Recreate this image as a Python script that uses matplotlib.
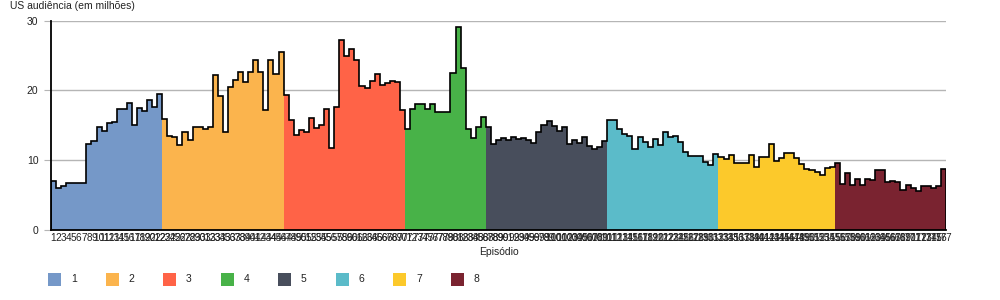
import numpy as np
import matplotlib
matplotlib.use("Agg")
import matplotlib.pyplot as plt
from matplotlib.patches import Rectangle

plt.rcParams["font.family"] = ["Liberation Sans", "DejaVu Sans"]

# US viewers (millions) per episode, grouped by season
season_1 = [7.0, 6.0, 6.3, 6.7, 6.8, 6.7, 6.8, 12.3, 12.7, 14.8, 14.2, 15.4, 15.5,
            17.3, 17.3, 18.2, 15.1, 17.5, 17.1, 18.7, 17.6, 19.5]
season_2 = [15.9, 13.5, 13.3, 12.2, 14.1, 12.9, 14.7, 14.8, 14.5, 14.7, 22.2, 19.2,
            14.1, 20.5, 21.5, 22.6, 21.2, 22.6, 24.4, 22.6, 17.2, 24.3, 22.3, 25.5]
season_3 = [19.4, 15.7, 13.6, 14.4, 14.1, 16.0, 14.6, 15.1, 17.3, 11.7, 17.7, 27.3,
            24.9, 26.0, 24.3, 20.6, 20.3, 21.4, 22.3, 20.8, 21.1, 21.3, 21.2, 17.2]
season_4 = [14.5, 17.4, 18.0, 18.0, 17.4, 18.0, 16.9, 16.9, 16.9, 22.5, 29.1, 23.2,
            14.5, 13.2, 14.7, 16.2]
season_5 = [14.8, 12.3, 12.9, 13.2, 12.9, 13.4, 13.0, 13.2, 12.9, 12.5, 14.1, 15.1,
            15.6, 14.9, 14.2, 14.8, 12.3, 12.9, 12.4, 13.3, 12.1, 11.6, 11.9, 12.7]
season_6 = [15.8, 15.8, 14.5, 13.8, 13.5, 11.6, 13.3, 12.6, 11.9, 13.0, 12.2, 14.1,
            13.4, 13.5, 12.6, 11.2, 10.6, 10.6, 10.6, 9.8, 9.3, 10.9]
season_7 = [10.4, 10.2, 10.7, 9.6, 9.6, 9.6, 10.7, 9.1, 10.4, 10.4, 12.3, 9.9, 10.3,
            11.0, 11.0, 10.3, 9.4, 8.8, 8.6, 8.3, 7.9, 8.9, 9.0]
season_8 = [9.6, 6.6, 8.2, 6.5, 7.3, 6.5, 7.3, 7.2, 8.6, 8.6, 6.9, 7.0, 6.9, 5.8,
            6.5, 6.0, 5.6, 6.3, 6.3, 6.0, 6.3, 8.7]

seasons = [season_1, season_2, season_3, season_4,
           season_5, season_6, season_7, season_8]
season_names = ["1", "2", "3", "4", "5", "6", "7", "8"]
season_colors = ["#7598c8", "#fbb44d", "#ff6347", "#48b248",
                 "#484e5c", "#5bbbc9", "#fcc92b", "#7a2330"]

all_values = np.concatenate(seasons)
n_eps = len(all_values)
episodes = np.arange(1, n_eps + 1)
tick_labels = [str(e) for e in episodes]

fig = plt.figure(figsize=(10, 3), dpi=100)
ax = fig.add_axes([0.051, 0.2333, 0.895, 0.6977])

start = 0
for vals, color in zip(seasons, season_colors):
    xs = episodes[start:start + len(vals)]
    ax.bar(xs, vals, width=1.0, color=color, linewidth=0, zorder=2)
    start += len(vals)

edges = np.arange(0.5, n_eps + 1.0, 1.0)
ax.stairs(all_values, edges, baseline=0, color="black", linewidth=1.2, zorder=3)

ax.set_xlim(0.5, n_eps + 0.5)
ax.set_ylim(0, 30)
ax.set_yticks([0, 10, 20, 30])
ax.yaxis.grid(True, color="#b5b5b5", linewidth=1.0, zorder=0)
ax.set_axisbelow(True)
ax.set_xticks(episodes)
ax.set_xticklabels(tick_labels, fontsize=7.2, color="#222222")
ax.tick_params(axis="x", length=0, pad=2)
ax.tick_params(axis="y", length=5, color="#b5b5b5", labelsize=7.5,
               labelcolor="#222222", pad=4)

for side in ("top", "right"):
    ax.spines[side].set_visible(False)
for side in ("left", "bottom"):
    ax.spines[side].set_color("black")
    ax.spines[side].set_linewidth(1.3)
    ax.spines[side].set_zorder(4)

fig.text(0.010, 0.997, "US audiência (em milhões)", fontsize=7.5,
         ha="left", va="top", color="#222222")
ax.set_xlabel("Episódio", fontsize=7.5, color="#222222", labelpad=3)

# legend row
for i, (name, color) in enumerate(zip(season_names, season_colors)):
    x0 = (48 + 57.5 * i) / 1000
    fig.add_artist(Rectangle((x0, 14 / 300), 13 / 1000, 13 / 300,
                             transform=fig.transFigure, color=color, lw=0))
    fig.text(x0 + 23 / 1000, 20.5 / 300, name, fontsize=7.5,
             ha="left", va="center", color="#222222")

fig.savefig("out.png", dpi=100, facecolor="white")
